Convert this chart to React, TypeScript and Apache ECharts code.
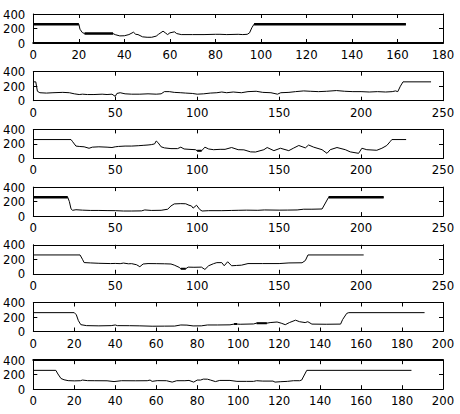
import React, { useEffect, useRef } from "react";
import * as echarts from "echarts";

// Panel 1
const p1X = [0, 20, 20.5, 21.5, 22.5, 35, 36, 38, 40, 42, 44, 45, 46, 48, 50, 52, 54, 55, 57, 58, 59, 60, 62, 63, 65, 70, 75, 80, 82, 85, 90, 92, 94, 95, 96, 97, 163.7];
const p1Y = [260, 260, 190, 145, 130, 130, 115, 98, 100, 116, 149, 120, 116, 85, 79, 79, 95, 120, 163, 140, 116, 140, 154, 130, 116, 116, 116, 120, 120, 116, 120, 116, 120, 140, 210, 260, 260];
const p1Thick = [[0, 20], [22.5, 35], [97, 163.7]];

// Panel 2
const p2X = [0, 1.5, 2.5, 4, 8, 12, 18, 22, 25, 28, 30, 33, 37, 42, 45, 48, 50, 51, 53, 56, 60, 65, 70, 75, 78, 80, 83, 86, 90, 93, 97, 100, 104, 108, 112, 115, 118, 122, 127, 131, 136, 140, 145, 149, 151, 156, 160, 165, 169, 174, 179, 185, 190, 195, 200, 205, 210, 215, 219, 221, 222.4, 224, 225.6, 242.7];
const p2Y = [260, 260, 130, 110, 105, 110, 115, 110, 95, 85, 90, 85, 85, 90, 85, 90, 60, 100, 110, 95, 90, 90, 95, 90, 95, 125, 125, 115, 110, 105, 100, 90, 95, 105, 110, 120, 110, 120, 110, 125, 130, 115, 110, 90, 110, 115, 125, 135, 130, 125, 130, 140, 130, 125, 125, 120, 125, 120, 125, 135, 125, 200, 260, 260];
const p2Thick: number[][] = [];

// Panel 3
const p3X = [0, 23, 24, 26, 28, 31, 34, 36, 40, 45, 48, 50, 52, 56, 60, 64, 67, 70, 72, 74, 75, 76, 78, 80, 84, 88, 90, 92, 95, 99, 100, 102.7, 104.7, 107, 110, 114, 117, 121, 125, 128.5, 132.6, 135.6, 140.7, 142.7, 146.8, 150.8, 155.9, 158.9, 162, 166, 168, 171.1, 176.2, 179.2, 181.2, 185.3, 190.4, 193.4, 198.5, 200.5, 203.5, 209.6, 212.7, 215.7, 217.7, 218.8, 227.5];
const p3Y = [260, 260, 230, 170, 165, 160, 140, 155, 160, 155, 150, 160, 165, 170, 170, 175, 180, 185, 190, 200, 240, 220, 160, 145, 135, 135, 155, 130, 125, 120, 105, 105, 155, 130, 120, 125, 125, 150, 120, 118, 90, 88, 120, 150, 107, 140, 107, 143, 178, 145, 185, 155, 120, 70, 120, 150, 120, 90, 70, 140, 120, 112, 140, 178, 230, 260, 260];
const p3Thick = [[100, 102.7]];

// Panel 4
const p4X = [0, 21, 22, 23, 24, 26, 30, 35, 40, 45, 50, 55, 60, 66, 68, 72, 78, 82, 84, 86, 90, 93, 95, 96.5, 97.5, 99.6, 101.6, 103, 107, 115, 121, 125, 130, 137, 141, 150, 155, 161, 165, 170, 176.2, 180.2, 213.8];
const p4Y = [260, 260, 200, 100, 80, 88, 82, 78, 78, 76, 75, 70, 70, 72, 85, 78, 80, 95, 140, 168, 172, 170, 150, 140, 110, 150, 90, 70, 75, 75, 78, 80, 82, 80, 85, 82, 83, 85, 95, 95, 98, 260, 260];
const p4Thick = [[0, 21], [180.2, 213.8]];

// Panel 5
const p5X = [0, 28.5, 30, 31, 35, 40, 47, 50, 53, 55, 58, 60, 63, 65, 67, 70, 75, 80, 84, 86, 89, 90, 93, 94.5, 98, 102.6, 104.7, 107, 110, 112, 115, 116.5, 118.6, 121, 124, 127, 131, 140, 150, 156, 164, 166, 167.6, 201.6];
const p5Y = [260, 260, 200, 155, 150, 145, 141, 143, 140, 148, 138, 140, 125, 98, 135, 141, 140, 138, 135, 120, 89, 70, 70, 92, 90, 92, 60, 111, 140, 154, 154, 111, 166, 111, 115, 119, 141, 141, 141, 150, 152, 183, 260, 260];
const p5Thick = [[90, 93]];

// Panel 6
const p6X = [0, 20, 21, 22, 23.2, 26, 32, 38, 40, 41, 47, 52, 58, 64, 69, 72, 75, 78, 82, 85, 90, 96, 98, 99.5, 101, 107.5, 109, 114, 115.6, 119, 121, 123, 125, 128, 130, 132.7, 134, 136, 143, 150, 151, 153, 154, 191];
const p6Y = [260, 260, 230, 150, 94, 81, 78, 81, 90, 81, 80, 78, 73, 74, 75, 90, 88, 77, 78, 90, 90, 92, 102, 102, 100, 104, 115, 115, 123, 131, 115, 94, 123, 156, 135, 123, 135, 102, 100, 102, 165, 250, 260, 260];
const p6Thick = [[98, 99.5], [109, 114]];

// Panel 7
const p7X = [0, 11, 12, 13.5, 15, 17, 20, 23, 24, 26.5, 30, 36, 39.4, 43, 50, 55.6, 57, 58, 60.5, 65, 67.8, 70, 74, 76, 78.3, 80, 81.6, 83, 85, 86.5, 88.9, 91, 96, 99.4, 104, 107.5, 109, 112, 117, 118, 120.5, 124, 127, 130, 131, 133.5, 184.6];
const p7Y = [260, 260, 210, 148, 130, 118, 115, 117, 126, 118, 117, 116, 105, 117, 116, 117, 126, 108, 118, 117, 98, 117, 117, 121, 98, 126, 126, 139, 138, 126, 105, 121, 121, 108, 108, 108, 117, 112, 112, 98, 103, 108, 117, 117, 126, 260, 260];
const p7Thick: number[][] = [];

const xMaxes = [180, 250, 250, 250, 250, 200, 200];
const xSteps = [20, 50, 50, 50, 50, 20, 20];
const yMin = 0;
const yMax = 400;
const yStep = 200;

const panelX = [p1X, p2X, p3X, p4X, p5X, p6X, p7X];
const panelY = [p1Y, p2Y, p3Y, p4Y, p5Y, p6Y, p7Y];
const panelThick = [p1Thick, p2Thick, p3Thick, p4Thick, p5Thick, p6Thick, p7Thick];

const FONT = "'Liberation Sans Narrow', 'DejaVu Sans Condensed', 'Arial Narrow', sans-serif";

export default function App() {
  const ref = useRef<HTMLDivElement>(null);
  useEffect(() => {
    const chart = echarts.init(ref.current!, null, { renderer: "svg" });
    const grids: any[] = [];
    const xAxes: any[] = [];
    const yAxes: any[] = [];
    const series: any[] = [];
    const tick = { show: true, inside: true, length: 4, lineStyle: { color: "#000", width: 1 } };
    for (let i = 0; i < 7; i++) {
      grids.push({ left: 32, right: 17, top: 14 + 57.7 * i, height: 29 });
      const bottomW = i === 0 ? 2 : 1;
      const topW = i === 6 ? 2 : 1;
      xAxes.push({
        type: "value", gridIndex: i, position: "bottom", min: 0, max: xMaxes[i], interval: xSteps[i],
        axisLine: { show: true, onZero: false, lineStyle: { color: "#000", width: bottomW } },
        axisTick: tick, splitLine: { show: false },
        axisLabel: { color: "#000", fontSize: 13, fontFamily: FONT, margin: 5 },
      });
      xAxes.push({
        type: "value", gridIndex: i, position: "top", min: 0, max: xMaxes[i], interval: xSteps[i],
        axisLine: { show: true, onZero: false, lineStyle: { color: "#000", width: topW } },
        axisTick: tick, splitLine: { show: false }, axisLabel: { show: false },
      });
      yAxes.push({
        type: "value", gridIndex: i, position: "left", min: yMin, max: yMax, interval: yStep,
        axisLine: { show: true, onZero: false, lineStyle: { color: "#000", width: 1 } },
        axisTick: tick, splitLine: { show: false },
        axisLabel: { color: "#000", fontSize: 13, fontFamily: FONT, margin: 8 },
      });
      yAxes.push({
        type: "value", gridIndex: i, position: "right", min: yMin, max: yMax, interval: yStep,
        axisLine: { show: true, onZero: false, lineStyle: { color: "#000", width: 1 } },
        axisTick: tick, splitLine: { show: false }, axisLabel: { show: false },
      });
      const pts = panelX[i].map((x, k) => [x, panelY[i][k]]);
      series.push({
        type: "line", xAxisIndex: 2 * i, yAxisIndex: 2 * i, data: pts, symbol: "none",
        lineStyle: { color: "#000", width: 1 }, silent: true,
      });
      panelThick[i].forEach((r) => {
        series.push({
          type: "line", xAxisIndex: 2 * i, yAxisIndex: 2 * i,
          data: pts.filter((p) => p[0] >= r[0] && p[0] <= r[1]), symbol: "none",
          lineStyle: { color: "#000", width: i === 0 || i === 3 ? 2.5 : 2 }, silent: true,
        });
      });
    }
    chart.setOption({
      animation: false,
      backgroundColor: "#fff",
      grid: grids,
      xAxis: xAxes,
      yAxis: yAxes,
      series,
    });
    return () => chart.dispose();
  }, []);
  return (
    <div
      ref={ref}
      style={{ position: "fixed", left: 0, top: 0, width: 460, height: 414, background: "#fff" }}
    />
  );
}
